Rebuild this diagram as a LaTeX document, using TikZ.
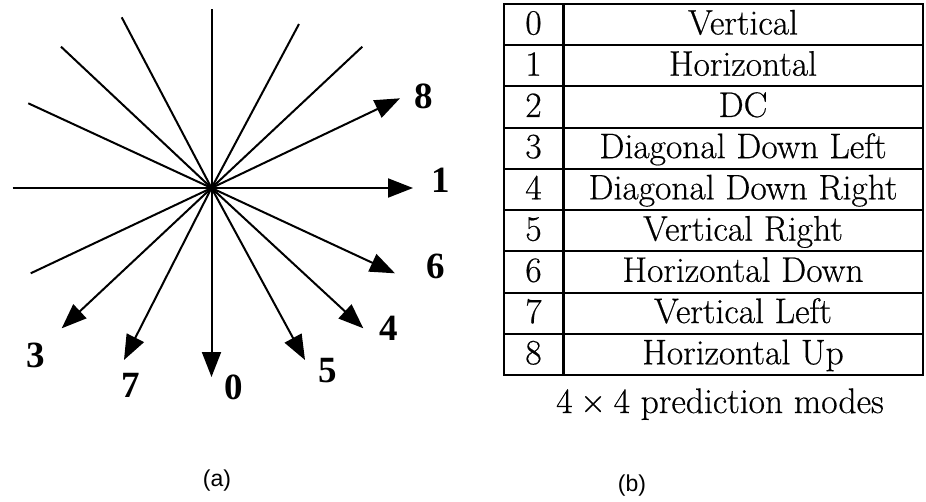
\documentclass[tikz,border=0pt]{standalone}
\usepackage{fontspec}
\usetikzlibrary{arrows.meta}
\newfontfamily\lblfont{Liberation Serif}
\newfontfamily\capfont{Liberation Sans}
\newfontfamily\tabfont{Latin Modern Roman}[FakeBold=0.5]
\tikzset{
  ray/.style={line width=2pt, draw=black},
  arr/.style={ray, -{Triangle[length=25pt,width=19pt]}},
  lbl/.style={font=\lblfont\bfseries\fontsize{37}{42}\selectfont, inner sep=0pt},
  celltext/.style={font=\tabfont\fontsize{35.5}{42}\selectfont, inner sep=0pt, anchor=base},
  tabline/.style={line width=2pt},
  capt/.style={font=\capfont\fontsize{23}{27}\selectfont, inner sep=0pt}
}
\begin{document}
\begin{tikzpicture}[x=1pt,y=-1pt]
\useasboundingbox (0,0) rectangle (926,501);
% ---- (a) star of prediction directions ----
\coordinate (c) at (211.5,188);
\coordinate (vt) at (211.5,9);
\coordinate (t0) at (211.5,377);
\coordinate (hl) at (12.5,188);
\coordinate (t1) at (413,188);
\coordinate (e5) at (121.7,17.3);
\coordinate (t5) at (305,360);
\coordinate (e4) at (61,46.7);
\coordinate (t4) at (363.3,328.3);
\coordinate (e6) at (28.3,103.3);
\coordinate (t6) at (395,273.3);
\coordinate (e7) at (299,24);
\coordinate (t7) at (124,360);
\coordinate (e3) at (362.3,46.7);
\coordinate (t3) at (61.7,328.3);
\coordinate (e8) at (30.7,273.3);
\coordinate (t8) at (400,98.3);
\draw[arr] (vt) -- (c) -- (t0);
\draw[arr] (hl) -- (c) -- (t1);
\draw[arr] (e5) -- (c) -- (t5);
\draw[arr] (e4) -- (c) -- (t4);
\draw[arr] (e6) -- (c) -- (t6);
\draw[arr] (e7) -- (c) -- (t7);
\draw[arr] (e3) -- (c) -- (t3);
\draw[arr] (e8) -- (c) -- (t8);
\node[lbl] (l8) at (423.3,96.7) {8};
\node[lbl] (l1) at (440.7,180) {1};
\node[lbl] (l6) at (435.7,266.7) {6};
\node[lbl] (l4) at (389,328.3) {4};
\node[lbl] (l5) at (327.3,370.7) {5};
\node[lbl] (l0) at (233.3,387.3) {0};
\node[lbl] (l7) at (130.7,385.7) {7};
\node[lbl] (l3) at (35.7,355.7) {3};
% ---- (b) table ----
\draw[tabline] (504,4) rectangle (923,375);
\foreach \i in {1,...,8} {
  \draw[tabline] (504,{4+41.22*\i}) -- (923,{4+41.22*\i});
}
\draw[line width=3pt] (563,4) -- (563,375);
\foreach \i/\t in {0/Vertical,1/Horizontal,2/DC,3/Diagonal Down Left,4/Diagonal Down Right,5/Vertical Right,6/Horizontal Down,7/Vertical Left,8/Horizontal Up} {
  \node[celltext] (num\i) at (533.5,{4+41.22*\i+30.5}) {\i};
  \node[celltext] (mode\i) at (743,{4+41.22*\i+30.5}) {\t};
}
\node[celltext] (tcap) at (720,413) {4\hspace{.22em}×\hspace{.22em}4 prediction modes};
% ---- captions ----
\node[capt] (capa) at (217,481) {(a)};
\node[capt] (capb) at (632,486) {(b)};
\end{tikzpicture}
\end{document}
